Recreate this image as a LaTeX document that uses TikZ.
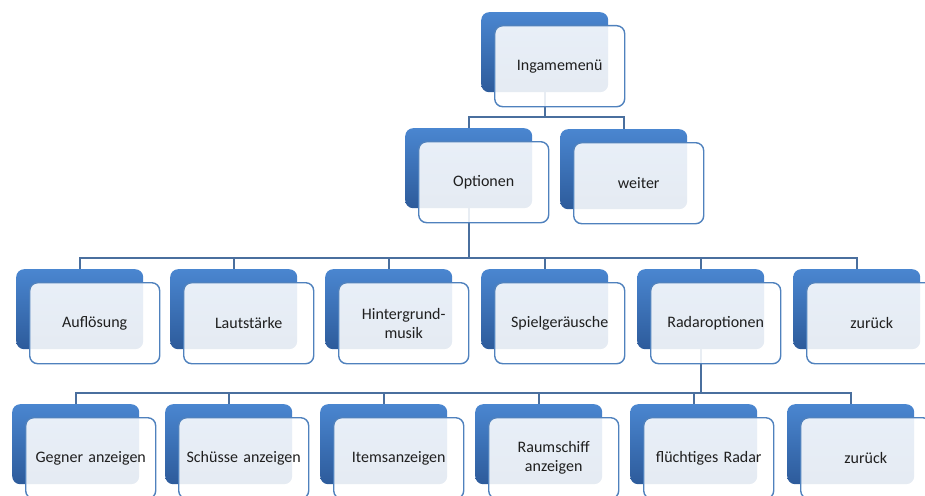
\documentclass[tikz,border=0pt]{standalone}
\usepackage{fontspec}
\setmainfont{Carlito}
\usetikzlibrary{calc}
\pgfdeclarelayer{bg}
\pgfsetlayers{bg,main}
\definecolor{backtop}{HTML}{4A86D0}
\definecolor{backbot}{HTML}{2D5B9B}
\definecolor{frontline}{HTML}{4F81BD}
\definecolor{connc}{HTML}{4A6F9E}
\tikzset{
  backbox/.style={anchor=north west, minimum width=127pt, minimum height=80pt,
    rounded corners=8pt, top color=backtop, bottom color=backbot, draw=none, inner sep=0pt},
  frontbox/.style={anchor=north west, minimum width=130pt, minimum height=81pt,
    rounded corners=8pt, fill=white, fill opacity=0.88, text opacity=1,
    draw=frontline, line width=1.4pt, align=center,
    font=\fontsize{16}{19}\selectfont, text=black!88, inner sep=0pt, text width=122pt},
  connline/.style={draw=connc, line width=2pt},
}
\newcommand\mkitem[4]{%
  \node[backbox] (#1B) at (#2,#3) {};
  \node[frontbox] (#1) at ($(#1B.north west)+(13,13)$) {#4};}
\begin{document}
\begin{tikzpicture}[x=1pt,y=-1pt]
\useasboundingbox (0,0) rectangle (925,495);
% top
\mkitem{ing}{481}{12}{Ingamemenü}
\mkitem{opt}{405}{128}{Optionen}
\mkitem{wei}{560}{129}{weiter}
% row 2
\mkitem{ra}{16}{269}{Auflösung}
\mkitem{rb}{170}{269}{Lautstärke}
\mkitem{rc}{325}{269}{Hintergrund-\\musik}
\mkitem{rd}{481}{269}{Spielgeräusche}
\mkitem{re}{637}{269}{Radaroptionen}
\mkitem{rf}{793}{269}{zurück}
% row 3
\mkitem{sa}{12}{404}{Gegner anzeigen}
\mkitem{sb}{165}{404}{Schüsse anzeigen}
\mkitem{sc}{320}{404}{Itemsanzeigen}
\mkitem{sd}{475}{404}{Raumschiff\\anzeigen}
\mkitem{se}{630}{404}{flüchtiges Radar}
\mkitem{sf}{787}{404}{zurück}
\coordinate (bus1) at (0,117);
\coordinate (bus2) at (0,258);
\coordinate (bus3) at (0,393);
\begin{pgfonlayer}{bg}
  \draw[connline] (ingB.south) -- (ingB.south |- bus1);
  \draw[connline] (optB.north) |- (bus1 -| weiB.north) -- (weiB.north);
  \draw[connline] (optB.south) -- (optB.south |- bus2);
  \draw[connline] (raB.north) |- (bus2 -| rfB.north) -- (rfB.north);
  \foreach \n in {rb,rc,rd,re} \draw[connline] (\n B.north) -- (\n B.north |- bus2);
  \draw[connline] (reB.south) -- (reB.south |- bus3);
  \draw[connline] (saB.north) |- (bus3 -| sfB.north) -- (sfB.north);
  \foreach \n in {sb,sc,sd,se} \draw[connline] (\n B.north) -- (\n B.north |- bus3);
\end{pgfonlayer}
\end{tikzpicture}
\end{document}
